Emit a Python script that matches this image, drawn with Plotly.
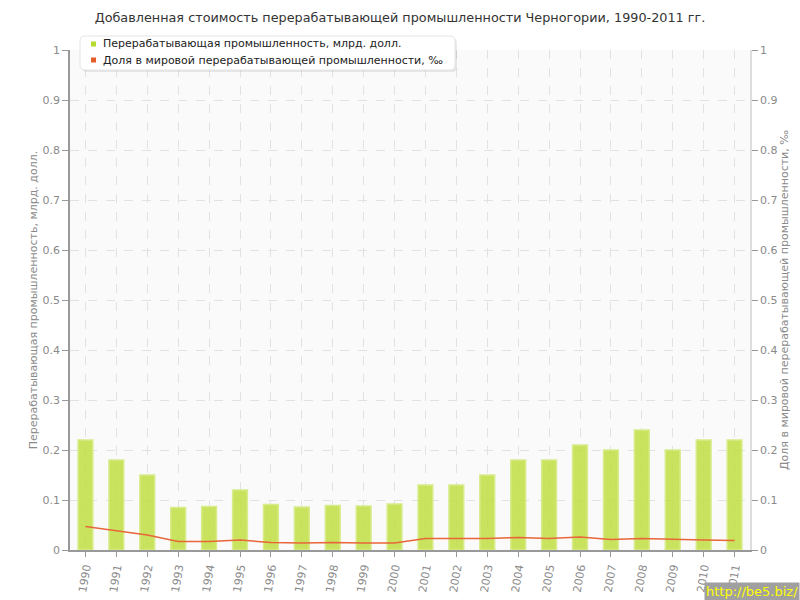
import plotly.graph_objects as go

years = [str(y) for y in range(1990, 2012)]
value_bln = [0.22, 0.18, 0.15, 0.085, 0.087, 0.12, 0.091, 0.086, 0.089, 0.088, 0.092,
             0.13, 0.13, 0.15, 0.18, 0.18, 0.21, 0.20, 0.24, 0.20, 0.22, 0.22]
share_permille = [0.047, 0.038, 0.030, 0.017, 0.017, 0.020, 0.015, 0.014, 0.015, 0.014, 0.014,
                  0.023, 0.023, 0.023, 0.025, 0.023, 0.026, 0.021, 0.023, 0.021, 0.020, 0.019]
ticks = [0, 0.1, 0.2, 0.3, 0.4, 0.5, 0.6, 0.7, 0.8, 0.9, 1]
tick_text = ["0", "0.1", "0.2", "0.3", "0.4", "0.5", "0.6", "0.7", "0.8", "0.9", "1"]

name_bar = "Перерабатывающая промышленность, млрд. долл."
name_line = "Доля в мировой перерабатывающей промышленности, ‰"
legend_names = [name_bar, name_line]
legend_colors = ["#b5d92c", "#e35d2a"]

font = "DejaVu Sans"
grey = "#8a8a8a"

W, H = 800, 600
ML, MR, MT, MB = 70, 50, 50, 50
PW, PH = W - ML - MR, H - MT - MB


def px(x):
    return (x - ML) / PW


def py(y):
    return (H - MB - y) / PH


fig = go.Figure()
fig.add_trace(go.Bar(
    x=years, y=value_bln, name=name_bar, showlegend=False,
    marker=dict(color="rgba(190,222,60,0.82)", line=dict(color="#d8ec8c", width=1.5)),
    width=0.48,
))
fig.add_trace(go.Scatter(
    x=years, y=share_permille, name=name_line, yaxis="y2", mode="lines",
    line=dict(color="#e8663a", width=1.5), showlegend=False,
))

# hand-drawn legend box (rounded) with shadow
def rounded(x0, y0, x1, y1, r):
    X0, X1 = px(x0), px(x1)
    Y0, Y1 = py(y0), py(y1)
    rx, ry = r / PW, r / PH
    return (f"M {X0+rx},{Y0} L {X1-rx},{Y0} Q {X1},{Y0} {X1},{Y0-ry} "
            f"L {X1},{Y1+ry} Q {X1},{Y1} {X1-rx},{Y1} L {X0+rx},{Y1} "
            f"Q {X0},{Y1} {X0},{Y1+ry} L {X0},{Y0-ry} Q {X0},{Y0} {X0+rx},{Y0} Z")

shapes = [
    dict(type="path", xref="paper", yref="paper", path=rounded(82, 38, 457, 72, 5),
         fillcolor="rgba(0,0,0,0.08)", line=dict(width=0), layer="above"),
    dict(type="path", xref="paper", yref="paper", path=rounded(80, 36, 455, 70, 5),
         fillcolor="white", line=dict(color="#e4e4e4", width=1), layer="above"),
]
annotations = []
for i, (nm, col) in enumerate(zip(legend_names, legend_colors)):
    cy = 44 + 16 * i
    shapes.append(dict(type="rect", xref="paper", yref="paper",
                       x0=px(91), x1=px(96), y0=py(cy + 2.5), y1=py(cy - 2.5),
                       fillcolor=col, line=dict(width=0), layer="above"))
    annotations.append(dict(text=nm, xref="paper", yref="paper", x=px(101), y=py(cy),
                            xanchor="left", yanchor="middle", showarrow=False,
                            font=dict(family=font, size=11, color="#222222")))

annotations.append(dict(text="http://be5.biz/", xref="paper", yref="paper", x=px(800), y=py(601),
                        xanchor="right", yanchor="bottom", showarrow=False,
                        font=dict(family=font, size=13, color="#ffff00"),
                        bgcolor="#a0a0a0", borderpad=1))

fig.update_layout(
    width=W, height=H,
    margin=dict(l=ML, r=MR, t=MT, b=MB, autoexpand=False),
    paper_bgcolor="white", plot_bgcolor="#fafafa",
    font=dict(family=font, size=11, color=grey),
    title=dict(text="Добавленная стоимость перерабатывающей промышленности Черногории, 1990-2011 гг.",
               x=0.5, xanchor="center", y=0.97, yanchor="middle",
               font=dict(family=font, size=12.8, color="#333333")),
    showlegend=False,
    xaxis=dict(type="category", range=[-0.5, 21.5], tickangle=-80, automargin=False,
               showgrid=True, gridcolor="#e2e2e2", griddash="dash", gridwidth=1,
               showline=True, linecolor="#999999", linewidth=1.5,
               ticks="outside", ticklen=5, tickcolor="#999999",
               tickfont=dict(family=font, size=11, color=grey)),
    yaxis=dict(range=[0, 1], tickvals=ticks, ticktext=tick_text, automargin=False,
               showgrid=True, gridcolor="#e2e2e2", griddash="dash", gridwidth=1,
               zeroline=False, showline=True, linecolor="#999999", linewidth=1.5,
               ticks="outside", ticklen=6, tickcolor="#999999",
               title=dict(text=name_bar, font=dict(family=font, size=11, color=grey), standoff=3),
               tickfont=dict(family=font, size=11, color=grey)),
    yaxis2=dict(range=[0, 1], tickvals=ticks, ticktext=tick_text, overlaying="y", side="right",
                automargin=False,
                showgrid=False, zeroline=False, showline=True, linecolor="#dddddd", linewidth=1.5,
                ticks="outside", ticklen=6, tickcolor="#999999",
                title=dict(text=name_line, font=dict(family=font, size=11, color=grey), standoff=4),
                tickfont=dict(family=font, size=11, color=grey)),
    shapes=shapes,
    annotations=annotations,
)

fig.write_html("out.html", config={"displayModeBar": False},
               post_script="document.body.style.margin='0px';document.body.style.overflow='hidden';")
